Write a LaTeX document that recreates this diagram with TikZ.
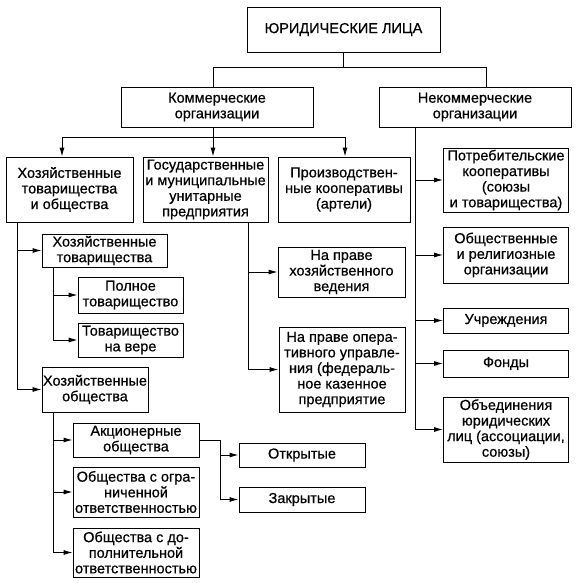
\documentclass[tikz,border=0pt]{standalone}
\usepackage{fontspec}
\setmainfont{Liberation Sans}[FakeBold=0.6]
\usetikzlibrary{arrows.meta}
\begin{document}
\begin{tikzpicture}[x=1pt,y=-1pt,
  box/.style={draw, line width=0.9pt, align=center, inner sep=1pt,
    font=\fontsize{14.5}{15.6}\selectfont},
  conn/.style={line width=0.9pt},
  arr/.style={line width=0.9pt, -{Latex[length=9pt,width=5pt]}}]
\useasboundingbox (0,0) rectangle (578,583);
% boxes
\node[box, minimum width=193, minimum height=45] (top) at (343.5,29.5) {ЮРИДИЧЕСКИЕ ЛИЦА};
\node[box, minimum width=192, minimum height=40] (kom) at (217,107) {Коммерческие\\организации};
\node[box, minimum width=192, minimum height=40] (nekom) at (475,107) {Некоммерческие\\организации};
\node[box, minimum width=127, minimum height=65] (hto) at (69.5,189.5) {Хозяйственные\\товарищества\\и общества};
\node[box, minimum width=125, minimum height=65] (gov) at (205.5,189.5) {Государственные\\и муниципальные\\унитарные\\предприятия};
\node[box, minimum width=132, minimum height=65] (proizv) at (344,189.5) {Производствен-\\ные кооперативы\\(артели)};
\node[box, minimum width=125, minimum height=64] (potreb) at (506,180) {Потребительские\\кооперативы\\(союзы\\и товарищества)};
\node[box, minimum width=125, minimum height=56] (obshch) at (506,255) {Общественные\\и религиозные\\организации};
\node[box, minimum width=125, minimum height=25] (uchr) at (506,320.5) {Учреждения};
\node[box, minimum width=125, minimum height=27] (fondy) at (506,363.5) {Фонды};
\node[box, minimum width=125, minimum height=65] (obed) at (506,429.5) {Объединения\\юридических\\лиц (ассоциации,\\союзы)};
\node[box, minimum width=125, minimum height=33] (hoztov) at (104.5,250.5) {Хозяйственные\\товарищества};
\node[box, minimum width=105, minimum height=36] (polnoe) at (130.5,295) {Полное\\товарищество};
\node[box, minimum width=105, minimum height=34] (vera) at (130.5,340) {Товарищество\\на вере};
\node[box, minimum width=106, minimum height=45] (hozobsh) at (95,389.5) {Хозяйственные\\общества};
\node[box, minimum width=126, minimum height=34] (ao) at (136,440) {Акционерные\\общества};
\node[box, minimum width=126, minimum height=50] (ooo) at (136,492) {Общества с огра-\\ниченной\\ответственностью};
\node[box, minimum width=126, minimum height=49] (odo) at (136,552.5) {Общества с до-\\полнительной\\ответственностью};
\node[box, minimum width=126, minimum height=24] (otkr) at (302,455) {Открытые};
\node[box, minimum width=126, minimum height=25] (zakr) at (302,499.5) {Закрытые};
\node[box, minimum width=127, minimum height=50] (hozved) at (341.5,272) {На праве\\хозяйственного\\ведения};
\node[box, minimum width=126, minimum height=85] (oper) at (342,369.5) {На праве опера-\\тивного управле-\\ния (федераль-\\ное казенное\\предприятие};
% coordinates
\coordinate (kx) at (213,67);
\coordinate (nx) at (486,67);
\coordinate (a1) at (62,137);
\coordinate (a3) at (345,137);
\coordinate (nt) at (415,127);
\coordinate (ht) at (17,222);
\coordinate (tt) at (53,267);
\coordinate (ot) at (53,412);
\coordinate (gt) at (248,222);
\coordinate (az) at (220,440);
% connectors
\draw[conn] (kx -| top.south) -- (top.south);
\draw[conn] (kx |- kom.north) -- (kx) -- (nx) -- (nx |- nekom.north);
\draw[arr] (kx |- kom.south) -- (kx |- gov.north);
\draw[conn] (a1) -- (a3);
\draw[arr] (a1) -- (a1 |- hto.north);
\draw[arr] (a3) -- (a3 |- proizv.north);
\draw[arr] (nt) |- (obed.west);
\draw[arr] (potreb.west -| nt) -- (potreb.west);
\draw[arr] (obshch.west -| nt) -- (obshch.west);
\draw[arr] (uchr.west -| nt) -- (uchr.west);
\draw[arr] (fondy.west -| nt) -- (fondy.west);
\draw[arr] (ht) |- (hozobsh.west);
\draw[arr] (hoztov.west -| ht) -- (hoztov.west);
\draw[arr] (tt) |- (vera.west);
\draw[arr] (polnoe.west -| tt) -- (polnoe.west);
\draw[arr] (ot) |- (odo.west);
\draw[arr] (ao.west -| ot) -- (ao.west);
\draw[arr] (ooo.west -| ot) -- (ooo.west);
\draw[arr] (gt) |- (oper.west);
\draw[arr] (hozved.west -| gt) -- (hozved.west);
\draw[conn] (ao.east) -- (az);
\draw[arr] (az) |- (zakr.west);
\draw[arr] (otkr.west -| az) -- (otkr.west);
\end{tikzpicture}
\end{document}
